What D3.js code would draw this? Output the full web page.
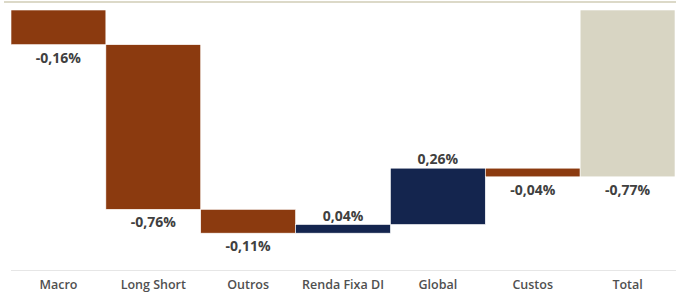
<!DOCTYPE html>
<html>
<head>
<meta charset="utf-8">
<script src="https://cdn.jsdelivr.net/npm/d3@7"></script>
<style>
  body { margin: 0; background: #fff; }
  svg { display: block; }
</style>
</head>
<body>
<script>
var w = 676;
var h = 293;

var categories = ["Macro", "Long Short", "Outros", "Renda Fixa DI", "Global", "Custos", "Total"];
var values = [-0.16, -0.76, -0.11, 0.04, 0.26, -0.04, -0.77];
var labels = ["-0,16%", "-0,76%", "-0,11%", "0,04%", "0,26%", "-0,04%", "-0,77%"];

// running start / end of each step; the last one is the total from zero
var running = 0;
var steps = values.map(function (v, i) {
    if (i === values.length - 1) {
        return { name: categories[i], start: 0, end: v, total: true, label: labels[i] };
    }
    var s = { name: categories[i], start: running, end: running + v, total: false, label: labels[i] };
    running += v;
    return s;
});

var x = d3.scaleBand()
    .domain(categories)
    .range([11, 675])
    .padding(0);

var y = d3.scaleLinear()
    .domain([-1.2, 0])
    .range([270, 10]);

var svg = d3.select("body")
    .append("svg")
    .attr("width", w)
    .attr("height", h);

// top rule
svg.append("line")
    .attr("x1", 4).attr("x2", w)
    .attr("y1", 2).attr("y2", 2)
    .attr("stroke", "#dcd9c8")
    .attr("stroke-width", 2);

// bottom axis line
svg.append("line")
    .attr("x1", 11).attr("x2", w)
    .attr("y1", y(-1.2) + 0.5).attr("y2", y(-1.2) + 0.5)
    .attr("stroke", "#e6e6e6")
    .attr("stroke-width", 1);

function colorOf(d) {
    if (d.total) return "#d8d5c3";
    return d.end < d.start ? "#8b3a0f" : "#14254e";
}

svg.selectAll("rect.bar")
    .data(steps)
    .enter()
    .append("rect")
    .attr("class", "bar")
    .attr("x", function (d) { return x(d.name); })
    .attr("width", x.bandwidth())
    .attr("y", function (d) { return y(Math.max(d.start, d.end)); })
    .attr("height", function (d) { return Math.abs(y(d.start) - y(d.end)); })
    .attr("fill", colorOf)
    .attr("stroke", "#fff")
    .attr("stroke-width", 0.6);

svg.selectAll("text.val")
    .data(steps)
    .enter()
    .append("text")
    .attr("class", "val")
    .text(function (d) { return d.label; })
    .attr("x", function (d) { return x(d.name) + x.bandwidth() / 2; })
    .attr("y", function (d) {
        if (d.end >= d.start && !d.total) return y(d.end) - 4;
        return y(Math.min(d.start, d.end)) + 18;
    })
    .attr("text-anchor", "middle")
    .attr("font-family", "'Open Sans', sans-serif")
    .attr("font-weight", "bold")
    .attr("font-size", "14px")
    .attr("fill", "#404040");

var xAxis = svg.append("g")
    .attr("transform", "translate(0," + y(-1.2) + ")")
    .call(d3.axisBottom(x).tickSize(0).tickPadding(10));

xAxis.select(".domain").remove();
xAxis.selectAll("text")
    .attr("font-family", "'Open Sans', sans-serif")
    .attr("font-weight", 600)
    .attr("font-size", "12.5px")
    .attr("fill", "#505050");
</script>
</body>
</html>
